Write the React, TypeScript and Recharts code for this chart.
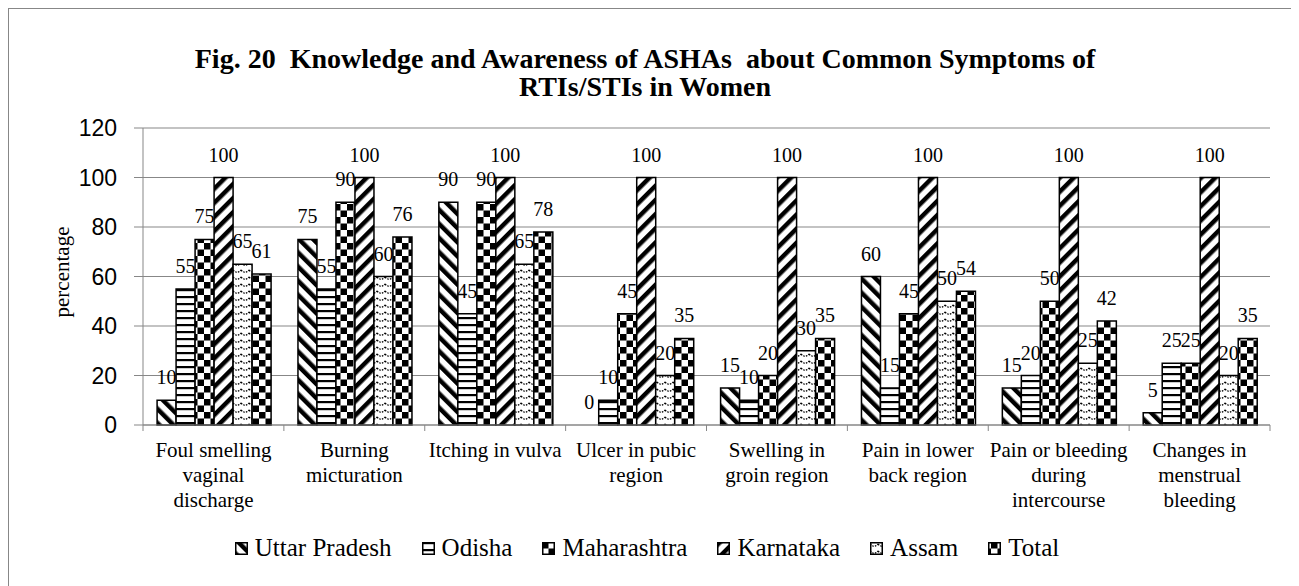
import React from 'react'
import { BarChart, Bar, XAxis, YAxis, CartesianGrid, LabelList, Rectangle } from 'recharts'

const categories = [
  'Foul smelling vaginal discharge',
  'Burning micturation',
  'Itching in vulva',
  'Ulcer in pubic region',
  'Swelling in groin region',
  'Pain in lower back region',
  'Pain or bleeding during intercourse',
  'Changes in menstrual bleeding',
]
const uttarPradesh = [10, 75, 90, 0, 15, 60, 15, 5]
const odisha = [55, 55, 45, 10, 10, 15, 20, 25]
const maharashtra = [75, 90, 90, 45, 20, 45, 50, 25]
const karnataka = [100, 100, 100, 100, 100, 100, 100, 100]
const assam = [65, 60, 65, 20, 30, 50, 25, 20]
const total = [61, 76, 78, 35, 35, 54, 42, 35]
const yTicks = [0, 20, 40, 60, 80, 100, 120]

const seriesList = [
  { key: 'up', name: 'Uttar Pradesh', values: uttarPradesh, pattern: 'pUP' },
  { key: 'od', name: 'Odisha', values: odisha, pattern: 'pOD' },
  { key: 'mh', name: 'Maharashtra', values: maharashtra, pattern: 'pMH' },
  { key: 'ka', name: 'Karnataka', values: karnataka, pattern: 'pKA' },
  { key: 'as', name: 'Assam', values: assam, pattern: 'pAS' },
  { key: 'tot', name: 'Total', values: total, pattern: 'pTOT' },
]

const data = categories.map((name, i) => {
  const row: Record<string, string | number> = { name }
  seriesList.forEach((s) => (row[s.key] = s.values[i]))
  return row
})

const W = 1288
const H = 577
const MARGIN = { top: 119, right: 27, bottom: 71, left: 74 }
const Y_WIDTH = 60
const BAND = (W - MARGIN.left - Y_WIDTH - MARGIN.right) / categories.length
const GRID = '#878787'
const SERIF = '"Liberation Serif", "Times New Roman", serif'
const CAT_FONT = 21

// greedy word wrap, measured with a canvas so it follows the real font
let ctx: CanvasRenderingContext2D | null = null
function wrap(label: string, maxWidth: number) {
  if (!ctx) {
    ctx = document.createElement('canvas').getContext('2d')
    if (ctx) ctx.font = `${CAT_FONT}px "Liberation Serif"`
  }
  const words = label.split(' ')
  const lines: string[] = []
  let cur = ''
  words.forEach((w) => {
    const test = cur ? cur + ' ' + w : w
    const width = ctx ? ctx.measureText(test).width : test.length * 9
    if (cur && width > maxWidth) {
      lines.push(cur)
      cur = w
    } else {
      cur = test
    }
  })
  if (cur) lines.push(cur)
  return lines
}

function Patterns() {
  return (
    <svg width={0} height={0} style={{ position: 'absolute' }}>
      <defs>
        <pattern id="pUP" width="10" height="10" patternUnits="userSpaceOnUse" patternTransform="rotate(-45)">
          <rect width="10" height="10" fill="#fff" />
          <rect width="4.5" height="10" fill="#000" />
        </pattern>
        <pattern id="pKA" width="10" height="10" patternUnits="userSpaceOnUse" patternTransform="rotate(45)">
          <rect width="10" height="10" fill="#fff" />
          <rect width="4.5" height="10" fill="#000" />
        </pattern>
        <pattern id="pOD" width="8" height="7" patternUnits="userSpaceOnUse">
          <rect width="8" height="7" fill="#fff" />
          <rect y="0" width="8" height="2.2" fill="#000" />
        </pattern>
        <pattern id="pMH" width="13" height="13" patternUnits="userSpaceOnUse">
          <rect width="13" height="13" fill="#fff" />
          <rect x="0" y="0" width="6.5" height="6.5" fill="#000" />
          <rect x="6.5" y="6.5" width="6.5" height="6.5" fill="#000" />
        </pattern>
        <pattern id="pTOT" width="13" height="13" patternUnits="userSpaceOnUse" x="3">
          <rect width="13" height="13" fill="#fff" />
          <rect x="0" y="0" width="6.5" height="6.5" fill="#000" />
          <rect x="6.5" y="6.5" width="6.5" height="6.5" fill="#000" />
        </pattern>
        <pattern id="pAS" width="8" height="7" patternUnits="userSpaceOnUse">
          <rect width="8" height="7" fill="#fff" />
          <path d="M0,2 Q4,6.5 8,2" fill="none" stroke="#000" strokeWidth="1.3" strokeDasharray="1.6 1.2" />
        </pattern>
      </defs>
    </svg>
  )
}

function CategoryTick(props: any) {
  const { x, y, payload, index } = props
  const left = x - BAND / 2
  const lines = wrap(String(payload.value), 140)
  return (
    <g>
      <line x1={left} y1={y} x2={left} y2={y + 6} stroke={GRID} />
      {index === categories.length - 1 && (
        <line x1={left + BAND} y1={y} x2={left + BAND} y2={y + 6} stroke={GRID} />
      )}
      <text x={x} y={y + 32} textAnchor="middle" fontFamily={SERIF} fontSize={CAT_FONT} fill="#000">
        {lines.map((ln, i) => (
          <tspan key={i} x={x} dy={i === 0 ? 0 : 25}>
            {ln}
          </tspan>
        ))}
      </text>
    </g>
  )
}

// value label drawn above the bar, also for zero-height bars
function ValueLabel(props: any) {
  const { x, y, width, height, value } = props
  if (value == null) return null
  const top = Math.min(Number(y), Number(y) + Number(height || 0))
  return (
    <text
      x={Number(x) + Number(width) / 2}
      y={top - 16}
      textAnchor="middle"
      fontFamily={SERIF}
      fontSize={20}
      fill="#000"
    >
      {value}
    </text>
  )
}

// a zero value keeps a hair-thin bar so its label exists, but nothing is drawn
function BarShape(props: any) {
  if (Math.abs(Number(props.height)) < 0.5) return <g />
  return <Rectangle {...props} />
}

export default function App() {
  return (
    <div
      style={{
        position: 'relative',
        width: W,
        height: 600,
        border: `1px solid ${GRID}`,
        background: '#fff',
        fontFamily: SERIF,
      }}
    >
      <Patterns />
      <div
        style={{
          position: 'absolute',
          top: 36,
          left: -8,
          width: W,
          textAlign: 'center',
          fontWeight: 'bold',
          fontSize: 28,
          lineHeight: '28px',
        }}
      >
        Fig. 20&nbsp; Knowledge and Awareness of ASHAs&nbsp; about Common Symptoms of
        <br />
        RTIs/STIs in Women
      </div>
      <div
        style={{
          position: 'absolute',
          left: 53 - 100,
          top: 263 - 12,
          width: 200,
          height: 24,
          lineHeight: '24px',
          textAlign: 'center',
          fontSize: 21,
          transform: 'rotate(-90deg)',
        }}
      >
        percentage
      </div>
      <div style={{ position: 'absolute', top: 0, left: 0 }}>
        <BarChart
          width={W}
          height={H}
          data={data}
          margin={MARGIN}
          barCategoryGap="10%"
          barGap={0}
        >
          <CartesianGrid horizontal vertical={false} stroke={GRID} />
          <XAxis
            dataKey="name"
            interval={0}
            tickLine={false}
            tickSize={0}
            tickMargin={0}
            height={90}
            axisLine={{ stroke: GRID }}
            tick={<CategoryTick />}
          />
          <YAxis
            domain={[0, 120]}
            ticks={yTicks}
            width={Y_WIDTH}
            tickSize={9}
            tickMargin={17}
            axisLine={{ stroke: GRID }}
            tickLine={{ stroke: GRID }}
            tick={{ fontFamily: '"Liberation Sans", Arial, sans-serif', fontSize: 23, fill: '#000' }}
          />
          {seriesList.map((s) => (
            <Bar
              key={s.key}
              dataKey={s.key}
              name={s.name}
              fill={`url(#${s.pattern})`}
              stroke="#000"
              strokeWidth={1.5}
              minPointSize={0.1}
              shape={BarShape}
              isAnimationActive={false}
            >
              <LabelList dataKey={s.key} content={<ValueLabel />} />
            </Bar>
          ))}
        </BarChart>
      </div>
      <div
        style={{
          position: 'absolute',
          top: 524,
          left: 0,
          width: W - 12,
          height: 30,
          display: 'flex',
          justifyContent: 'center',
          alignItems: 'center',
          fontSize: 25,
        }}
      >
        {seriesList.map((s, i) => (
          <div
            key={s.key}
            style={{ display: 'flex', alignItems: 'center', marginLeft: i === 0 ? 0 : 30 }}
          >
            <svg width={13} height={13} style={{ marginRight: 7 }}>
              <rect x={0.75} y={0.75} width={11.5} height={11.5} fill={`url(#${s.pattern})`} stroke="#000" strokeWidth={1.5} />
            </svg>
            <span>{s.name}</span>
          </div>
        ))}
      </div>
    </div>
  )
}
